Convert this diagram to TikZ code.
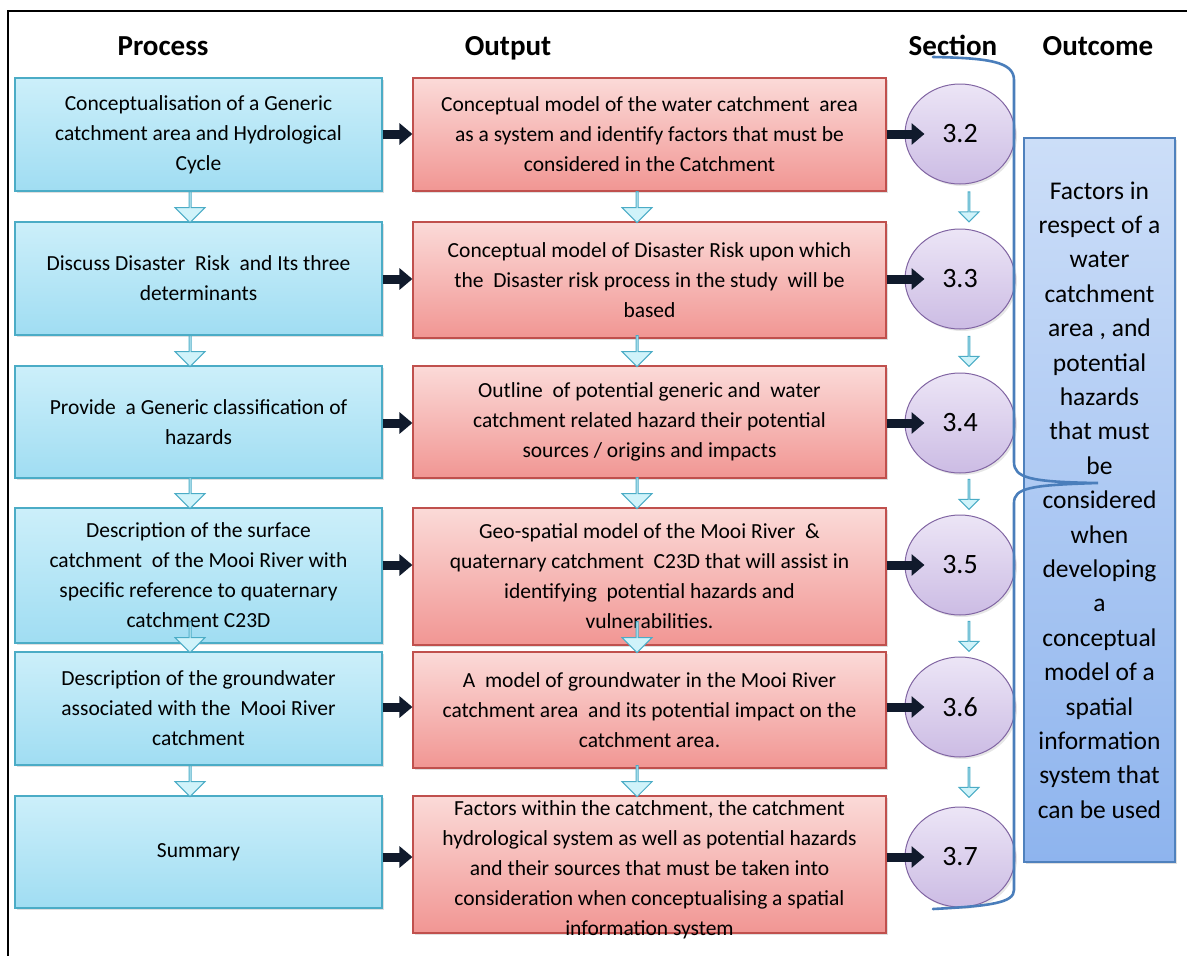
\documentclass[tikz,border=0pt]{standalone}
\usepackage{fontspec}
\setmainfont{Carlito}
\usetikzlibrary{arrows.meta,shapes.geometric,shapes.arrows,shadows}
\definecolor{procfill}{RGB}{204,239,250}
\definecolor{procdeep}{RGB}{160,221,242}
\definecolor{procedge}{RGB}{75,172,198}
\definecolor{outfill}{RGB}{251,218,216}
\definecolor{outdeep}{RGB}{241,150,147}
\definecolor{outedge}{RGB}{192,80,77}
\definecolor{secfill}{RGB}{236,229,246}
\definecolor{secdeep}{RGB}{204,188,228}
\definecolor{secedge}{RGB}{128,100,162}
\definecolor{resfill}{RGB}{204,222,248}
\definecolor{resdeep}{RGB}{142,180,238}
\definecolor{resedge}{RGB}{79,129,189}
\definecolor{bracecol}{RGB}{74,126,187}
\definecolor{pushcol}{RGB}{16,26,44}
\definecolor{flowfill}{RGB}{208,243,250}
\newcommand{\boxfont}{\fontsize{21.5}{30}\selectfont}
\newcommand{\hdrfont}{\fontsize{29}{34}\selectfont\bfseries}
\newcommand{\secfont}{\fontsize{28}{32}\selectfont}
\newcommand{\resfont}{\fontsize{25.5}{34.4}\selectfont}

\begin{document}
\begin{tikzpicture}[
  x=1pt, y=-1pt, >=Latex,
  hdr/.style={font=\hdrfont, inner sep=0pt, anchor=base},
  proc/.style={draw=procedge, line width=1.2pt, top color=procfill, bottom color=procdeep,
               minimum width=367pt, align=center, font=\boxfont, inner sep=2pt,
               drop shadow={opacity=0.25, shadow xshift=2pt, shadow yshift=-2pt}},
  outp/.style={proc, draw=outedge, top color=outfill, bottom color=outdeep, minimum width=473pt},
  sect/.style={ellipse, draw=secedge, line width=1pt, top color=secfill, bottom color=secdeep,
               minimum width=110pt, minimum height=100pt, font=\secfont, inner sep=0pt,
               drop shadow={opacity=0.2, shadow xshift=2pt, shadow yshift=-2pt}},
  res/.style={draw=resedge, line width=1.2pt, top color=resfill, bottom color=resdeep,
              minimum width=151pt, minimum height=724pt, align=center, font=\resfont,
              drop shadow={opacity=0.25, shadow xshift=2pt, shadow yshift=-2pt}},
  flow/.style={single arrow, draw=procedge, line width=1pt, fill=flowfill, inner sep=0pt,
               minimum height=31pt, minimum width=30pt, single arrow head extend=7pt,
               rotate=-90},
  sflow/.style={flow, minimum height=30pt, minimum width=20pt, single arrow head extend=6pt},
  pushar/.style={draw=pushcol, line width=9pt, -{Triangle[length=13pt, width=21pt]}}]
\useasboundingbox (0,0) rectangle (1187,956);
\draw[line width=2pt] (8,956) -- (8,11) -- (1187,11);

% column heads
\node[hdr] (hproc) at (163,55) {Process};
\node[hdr] (hout) at (508,55) {Output};
\node[hdr] (hsec) at (953,55) {Section};
\node[hdr] (hres) at (1098,55) {Outcome};

% process column
\node[proc, minimum height=113pt] (p1) at (198.5,134.5) {Conceptualisation of a Generic\\catchment area and Hydrological\\Cycle};
\node[proc, minimum height=113pt] (p2) at (198.5,278.5) {Discuss Disaster\ \ Risk\ \ and Its three\\determinants};
\node[proc, minimum height=112pt] (p3) at (198.5,422) {Provide\ \ a Generic classification of\\hazards};
\node[proc, minimum height=135pt] (p4) at (198.5,575.5) {Description of the surface\\catchment\ \ of the Mooi River with\\specific reference to quaternary\\catchment C23D};
\node[proc, minimum height=113pt] (p5) at (198.5,708.5) {Description of the groundwater\\associated with the\ \ Mooi River\\catchment};
\node[proc, minimum height=112pt] (p6) at (198.5,852) {Summary};

% output column
\node[outp, minimum height=113pt] (o1) at (649.5,134.5) {Conceptual model of the water catchment\ \ area\\as a system and identify factors that must be\\considered in the Catchment};
\node[outp, minimum height=116pt] (o2) at (649.5,280) {Conceptual model of Disaster Risk upon which\\the\ \ Disaster risk process in the study\ \ will be\\based};
\node[outp, minimum height=112pt] (o3) at (649.5,422) {Outline\ \ of potential generic and\ \ water\\catchment related hazard their potential\\sources / origins and impacts};
\node[outp, minimum height=137pt] (o4) at (649.5,576.5) {Geo-spatial model of the Mooi River\ \ \&\\quaternary catchment\ \ C23D that will assist in\\identifying\ \ potential hazards and\\vulnerabilities.};
\node[outp, minimum height=116pt] (o5) at (649.5,710) {A\ \ model of groundwater in the Mooi River\\catchment area\ \ and its potential impact on the\\catchment area.};
\node[outp, minimum height=137pt] (o6) at (649.5,864.5) {};
\node[font=\boxfont, align=center, inner sep=0pt] (o6t) at ([yshift=-5pt]o6.center) {Factors within the catchment, the catchment\\hydrological system as well as potential hazards\\and their sources that must be taken into\\consideration when conceptualising a spatial\\information system};

% section circles
\node[sect] (s1) at (960,134) {3.2};
\node[sect] (s2) at (960,279) {3.3};
\node[sect] (s3) at (960,423) {3.4};
\node[sect] (s4) at (960,565) {3.5};
\node[sect] (s5) at (960,707) {3.6};
\node[sect] (s6) at (960,857) {3.7};

% outcome
\node[res] (oc) at (1099.5,500) {Factors in\\respect of a\\water\\catchment\\area , and\\potential\\hazards\\that must\\be\\considered\\when\\developing\\a\\conceptual\\model of a\\spatial\\information\\system that\\can be used};

% downward flow arrows
\foreach \b in {p2,p3,p4,p5,p6}
  \node[flow, anchor=tip] at ([xshift=-8.5pt, yshift=-2pt]\b.north) {};
\foreach \b in {o2,o3,o4,o5,o6}
  \node[flow, anchor=tip] at ([xshift=-12.5pt, yshift=-2pt]\b.north) {};
\foreach \a/\b in {s1/s2,s2/s3,s3/s4,s4/s5,s5/s6}
  \path ([xshift=9pt]\a.south) -- ([xshift=9pt]\b.north) node[midway, sflow] {};

% push arrows
\foreach \i in {1,...,6} {
  \draw[pushar] (p\i.east |- s\i.center) -- (o\i.west |- s\i.center);
  \draw[pushar] (o\i.east |- s\i.center) -- ([xshift=20pt]s\i.west);
}

% bracket
\draw[bracecol, line width=2.6pt, line cap=round]
  (933,57) .. controls (990,58) and (1014,62) .. (1014,80)
  -- (1014,462) .. controls (1014,478) and (1030,482) .. (1098,483)
  .. controls (1030,485) and (1014,488) .. (1014,503)
  -- (1014,890) .. controls (1014,903) and (990,906) .. (933,909);
\end{tikzpicture}
\end{document}
